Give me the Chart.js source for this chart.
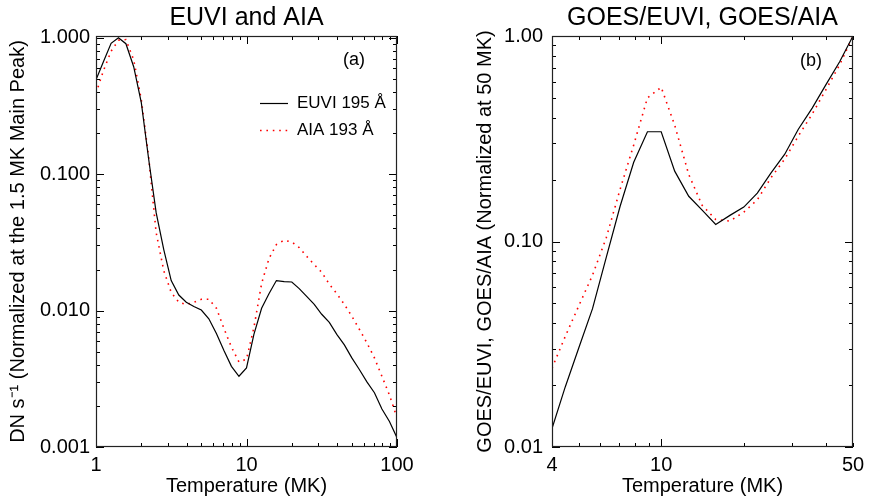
<!DOCTYPE html>
<html><head><meta charset="utf-8">
<script src="https://cdn.jsdelivr.net/npm/chart.js@4.4.1/dist/chart.umd.min.js"></script>
<style>
html,body{margin:0;padding:0;background:#fff;}
#wrap{position:relative;width:872px;height:502px;overflow:hidden;background:#fff;}
.panel{position:absolute;top:0;width:436px;height:502px;}
canvas{display:block;}
</style></head><body>
<div id="wrap">
<div class="panel" style="left:0"><canvas id="c1" width="436" height="502"></canvas></div>
<div class="panel" style="left:436px"><canvas id="c2" width="436" height="502"></canvas></div>
</div>
<script>
// ---- Panel (a): EUVI and AIA temperature responses ----
const tempsA = [1.00,1.12,1.26,1.41,1.58,1.78,2.00,2.24,2.51,2.82,3.16,3.55,3.98,4.47,5.01,5.62,6.31,7.08,7.94,8.91,
                10.0,11.2,12.6,14.1,15.8,17.8,20.0,22.4,25.1,28.2,31.6,35.5,39.8,44.7,50.1,56.2,63.1,70.8,79.4,89.1,100];
const euvi195 = [0.492,0.667,0.911,1.000,0.904,0.613,0.334,0.128,0.0522,0.0280,0.0166,0.0130,0.0115,0.0107,0.0101,0.0087,0.0068,0.0051,0.0039,0.0033,
                 0.0038,0.0067,0.0104,0.0133,0.0166,0.0163,0.0162,0.0145,0.0127,0.0111,0.0094,0.0082,0.0067,0.0056,0.0045,0.0037,0.0030,0.0025,0.0019,0.00154,0.00117];
const aia193 = [0.392,0.573,0.796,0.959,0.970,0.690,0.351,0.132,0.0373,0.0196,0.0136,0.0115,0.0111,0.0115,0.0121,0.0121,0.0104,0.0074,0.0054,0.0042,
                0.0044,0.0075,0.0158,0.0240,0.0305,0.0328,0.0318,0.0290,0.0250,0.0217,0.0191,0.0156,0.0133,0.0111,0.0091,0.0073,0.0058,0.0045,0.0033,0.0024,0.00164];
const xLabelsA = [1, 10, 100];
const yLabelsA = [0.001, 0.01, 0.1, 1];

// ---- Panel (b): GOES/EUVI and GOES/AIA ratios ----
const tempsB = [4.00,4.47,5.01,5.62,6.31,7.08,7.94,8.91,10.0,11.2,12.6,14.1,15.8,17.8,20.0,22.4,25.1,28.2,31.6,35.5,39.8,44.7,50.0];
const goesEuvi = [0.0123,0.0196,0.0304,0.0471,0.0840,0.148,0.243,0.342,0.342,0.220,0.166,0.142,0.121,0.134,0.147,0.172,0.215,0.266,0.352,0.446,0.578,0.749,1.000];
const goesAia  = [0.0242,0.0345,0.0487,0.0686,0.1046,0.179,0.295,0.500,0.563,0.368,0.212,0.150,0.128,0.1257,0.139,0.1595,0.204,0.252,0.326,0.417,0.547,0.724,1.000];
const xLabelsB = [4, 10, 50];
const yLabelsB = [0.01, 0.1, 1];

const FONT = '"Liberation Sans", Arial, Helvetica, sans-serif';
Chart.defaults.font.family = FONT;
Chart.defaults.color = '#000';

function mant(v){ return v / Math.pow(10, Math.floor(Math.log10(v) + 1e-9)); }
function isMajor(v){ return Math.abs(mant(v) - 1) < 1e-6; }
function isNice(v){ const m = mant(v); return Math.abs(m - Math.round(m)) < 1e-6; }
function inList(list, v){ return list.some(l => Math.abs(l - v) / l < 1e-6); }

const frameTicks = {
  id: 'frameTicks',
  afterDatasetsDraw(chart, args, opts) {
    const ctx = chart.ctx, a = chart.chartArea;
    const xs = chart.scales.x, ys = chart.scales.y;
    ctx.save();
    ctx.strokeStyle = '#000';
    ctx.lineWidth = 1;
    ctx.beginPath();
    xs.ticks.forEach(t => {
      if (!isNice(t.value)) return;
      const px = Math.round(xs.getPixelForValue(t.value)) + 0.5;
      const L = isMajor(t.value) ? opts.major : opts.minor;
      ctx.moveTo(px, a.bottom); ctx.lineTo(px, a.bottom - L);
      ctx.moveTo(px, a.top); ctx.lineTo(px, a.top + L);
    });
    ys.ticks.forEach(t => {
      if (!isNice(t.value)) return;
      const py = Math.round(ys.getPixelForValue(t.value)) + 0.5;
      const L = isMajor(t.value) ? opts.major : opts.minor;
      ctx.moveTo(a.left, py); ctx.lineTo(a.left + L, py);
      ctx.moveTo(a.right, py); ctx.lineTo(a.right - L, py);
    });
    ctx.stroke();
    ctx.lineWidth = 1.2;
    ctx.strokeStyle = '#222';
    ctx.strokeRect(a.left + 0.5, a.top + 0.5, a.right - a.left - 1, a.bottom - a.top - 1);
    ctx.restore();
  }
};

const panelTag = {
  id: 'panelTag',
  afterDatasetsDraw(chart, args, opts) {
    const ctx = chart.ctx, a = chart.chartArea;
    ctx.save();
    ctx.fillStyle = '#000';
    ctx.font = '18px ' + FONT;
    ctx.textAlign = 'center';
    ctx.textBaseline = 'middle';
    ctx.fillText(opts.text, a.right - opts.dx, a.top + opts.dy);
    if (opts.legend) {
      chart.data.datasets.forEach((ds, i) => {
        const y = Math.round(a.top + 67 + 27 * i) + 0.5;
        ctx.strokeStyle = ds.borderColor;
        ctx.lineWidth = ds.borderWidth;
        ctx.setLineDash(ds.borderDash || []);
        ctx.beginPath();
        ctx.moveTo(a.left + 164, y); ctx.lineTo(a.left + 192, y);
        ctx.stroke();
        ctx.setLineDash([]);
        ctx.font = '17px ' + FONT;
        ctx.textAlign = 'left';
        ctx.fillText(ds.label, a.left + 201, y);
      });
    }
    ctx.restore();
  }
};

function makeChart(id, cfg) {
  return new Chart(document.getElementById(id), {
    type: 'line',
    data: {
      datasets: [
        { label: cfg.names[0], data: cfg.temps.map((t, i) => ({x: t, y: cfg.s1[i]})),
          borderColor: '#000', borderWidth: 1.2, pointRadius: 0, tension: 0, fill: false },
        { label: cfg.names[1], data: cfg.temps.map((t, i) => ({x: t, y: cfg.s2[i]})),
          borderColor: '#ff0000', borderWidth: 1.6, borderDash: [1.6, 4.8], pointRadius: 0, tension: 0, fill: false }
      ]
    },
    options: {
      responsive: false,
      animation: false,
      devicePixelRatio: 1,
      layout: { padding: { left: 0, right: cfg.padRight, top: 0, bottom: 0 } },
      plugins: {
        legend: { display: false },
        tooltip: { enabled: false },
        title: { display: true, text: cfg.title, fullSize: false, color: '#000',
                 font: { size: 25, weight: 'normal', lineHeight: '30px' }, padding: { top: 3, bottom: 3 } },
        frameTicks: { major: 8, minor: 4 },
        panelTag: { text: cfg.tag, dx: cfg.tagDx, dy: cfg.tagDy, legend: cfg.legend }
      },
      scales: {
        x: {
          type: 'logarithmic', min: cfg.xmin, max: cfg.xmax,
          grid: { display: false, drawTicks: false },
          border: { display: false },
          afterFit(s) { s.height = 55; },
          ticks: { autoSkip: false, maxRotation: 0, padding: 6, font: { size: 20 }, color: '#000',
                   callback: v => inList(cfg.xLabels, v) ? String(Math.round(v)) : '' },
          title: { display: true, text: 'Temperature (MK)', font: { size: 20 }, color: '#000', padding: { top: 0, bottom: 4 } }
        },
        y: {
          type: 'logarithmic', min: cfg.ymin, max: cfg.ymax,
          grid: { display: false, drawTicks: false },
          border: { display: false },
          afterFit(s) { s.width = cfg.yWidth; },
          ticks: { autoSkip: false, padding: cfg.yTickPad, font: { size: 20 }, color: '#000',
                   callback: v => inList(cfg.yLabels, v) ? Number(v).toFixed(cfg.yDec) : '' },
          title: { display: true, text: cfg.yTitle, font: { size: 20 }, color: '#000', padding: { top: cfg.yTitlePad, bottom: 0 } }
        }
      }
    },
    plugins: [frameTicks, panelTag]
  });
}

makeChart('c1', {
  names: ['EUVI 195 Å', 'AIA 193 Å'], temps: tempsA, s1: euvi195, s2: aia193,
  title: 'EUVI and AIA', tag: '(a)', tagDx: 43, tagDy: 24, legend: true,
  xmin: 1, xmax: 100, ymin: 0.001, ymax: 1.03, xLabels: xLabelsA, yLabels: yLabelsA, yDec: 3,
  padRight: 39, yWidth: 96, yTickPad: 6, yTitlePad: 6,
  yTitle: 'DN s\u207B\u00B9 (Normalized at the 1.5 MK Main Peak)'
});

makeChart('c2', {
  names: ['GOES/EUVI', 'GOES/AIA'], temps: tempsB, s1: goesEuvi, s2: goesAia,
  title: 'GOES/EUVI, GOES/AIA', tag: '(b)', tagDx: 42, tagDy: 25, legend: false,
  xmin: 4, xmax: 50, ymin: 0.01, ymax: 1.0, xLabels: xLabelsB, yLabels: yLabelsB, yDec: 2,
  padRight: 19, yWidth: 116, yTickPad: 9, yTitlePad: 37,
  yTitle: 'GOES/EUVI, GOES/AIA (Normalized at 50 MK)'
});
</script>
</body></html>
